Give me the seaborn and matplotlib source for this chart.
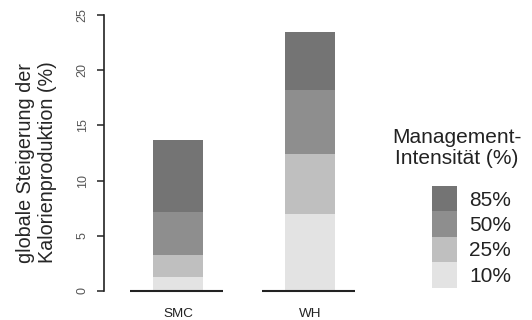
import numpy as np
import pandas as pd
import matplotlib.pyplot as plt
import seaborn as sns
from matplotlib.patches import Patch

sns.set_theme(style="white")
plt.rcParams['font.family'] = ['Liberation Sans', 'DejaVu Sans']

# Standorte und Intensitätsstufen
standorte = ["SMC", "WH"]
intensitaet = ["10%", "25%", "50%", "85%"]
# kumulierte Steigerung der Kalorienproduktion (%)
steigerung_10 = [1.3, 6.95]
steigerung_25 = [3.3, 12.4]
steigerung_50 = [7.2, 18.2]
steigerung_85 = [13.7, 23.5]
farben = ["#e3e3e3", "#bfbfbf", "#8e8e8e", "#747474"]

df = pd.DataFrame({
    "standort": standorte,
    "10%": steigerung_10,
    "25%": steigerung_25,
    "50%": steigerung_50,
    "85%": steigerung_85,
})

fig = plt.figure(figsize=(5.32, 3.2), dpi=100)
ax = fig.add_axes([104 / 532, 29 / 320, 276 / 532, 276 / 320])

# größte Stufe zuerst zeichnen, kleinere darüberlegen
for stufe, farbe in reversed(list(zip(intensitaet, farben))):
    sns.barplot(data=df, x="standort", y=stufe, color=farbe, saturation=1,
                width=0.38, linewidth=0, ax=ax)

# Grundlinie unter jedem Balken
for i in range(len(standorte)):
    ax.hlines(0, i - 0.36, i + 0.34, color="#222222", lw=1.5, clip_on=False)

ax.set_xlim(-0.56, 1.53)
ax.set_ylim(0, 25)
ax.set_yticks([0, 5, 10, 15, 20, 25])
ax.set_xlabel("")
ax.set_ylabel("globale Steigerung der\nKalorienproduktion (%)", fontsize=14.2,
              linespacing=1.15, multialignment="left")
ax.yaxis.set_label_coords(-0.172, 0.467)

for s in ["top", "right", "bottom"]:
    ax.spines[s].set_visible(False)
ax.spines["left"].set_color("#222222")
ax.spines["left"].set_linewidth(1.2)

ax.tick_params(axis="y", left=True, length=5, width=1.1, color="#222222",
               labelsize=9, labelcolor="#555555", pad=6, labelrotation=90)
for lab in ax.get_yticklabels():
    lab.set_va("center")
ax.tick_params(axis="x", bottom=False, length=0, labelsize=9.7, pad=12.5,
               labelcolor="#222222")

# Legende: Titel separat, zentriert über den Feldern
fig.text(457 / 532, 1 - 148 / 320, "Management-\nIntensität (%)", ha="center", va="center",
         fontsize=15, linespacing=1.1, color="#222222")
handles = [Patch(facecolor=f, edgecolor="none") for f in reversed(farben)]
leg = fig.legend(handles, list(reversed(intensitaet)), loc="upper left",
                 bbox_to_anchor=(432 / 532, 1 - 186 / 320), frameon=False,
                 fontsize=15, handlelength=1.2, handleheight=1.5,
                 labelspacing=0, handletextpad=0.6, borderpad=0, borderaxespad=0)
for t in leg.get_texts():
    t.set_color("#222222")

fig.savefig("out.png", dpi=100)
